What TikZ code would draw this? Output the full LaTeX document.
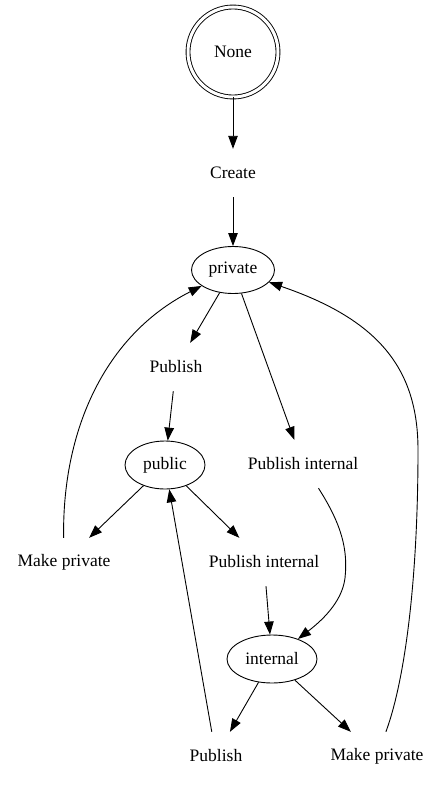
\documentclass[tikz,border=0pt]{standalone}
\usepackage{fontspec}
\setmainfont{Liberation Serif}
\usetikzlibrary{arrows.meta,shapes.geometric}
\begin{document}
\begin{tikzpicture}[x=1pt,y=-1pt,font=\fontsize{17.5}{21}\selectfont,
  state/.style={draw,ellipse,line width=0.9pt,inner sep=0pt,minimum height=48pt},
  act/.style={rectangle,inner xsep=10pt,inner ysep=0pt,minimum height=48pt},
  edge/.style={line width=0.9pt,-{Triangle[length=13pt,width=9.5pt]}}]
\useasboundingbox (0,0) rectangle (441,787);

\node [circle,draw,double,double distance=3pt,line width=0.9pt,minimum size=90pt,inner sep=0pt] (none) at (233,52) {None};
\node [act] (create) at (233,173) {Create};
\node [state,minimum width=83pt,minimum height=47pt] (private) at (233,270) {private};

\node [act] (publish) at (176,367) {Publish};
\node [act] (pubint) at (303,464) {Publish internal};
\node [state,minimum width=80pt] (public) at (165,465) {public};

\node [act] (makepriv) at (64,562) {Make private};
\node [act] (pubintb) at (264,562) {Publish internal};
\node [state,minimum width=90pt] (internal) at (272,659) {internal};

\node [act] (publishb) at (216,756) {Publish};
\node [act] (makeprivb) at (377,756) {Make private};

\draw[edge] (none) -- (create);
\draw[edge] (create) -- (private);
\draw[edge] (private) -- (publish);
\draw[edge] (private) -- (pubint);
\draw[edge] (publish) -- (public);
\draw[edge] (public) -- (makepriv);
\draw[edge] (public) -- (pubintb);
\draw[edge] (pubintb) -- (internal);
\draw[edge] (internal) -- (publishb);
\draw[edge] (internal) -- (makeprivb);
\draw[edge] (publishb) -- (public);

\draw[edge] (makepriv) .. controls (62,430) and (105,335) .. (private);
\draw[edge] (pubint) .. controls (342,525) and (348,550) .. (345,578)
  .. controls (342,603) and (320,622) .. (internal);
\draw[edge] (makeprivb) .. controls (405,680) and (418,580) .. (418,450)
  .. controls (418,370) and (380,320) .. (private);
\end{tikzpicture}
\end{document}
